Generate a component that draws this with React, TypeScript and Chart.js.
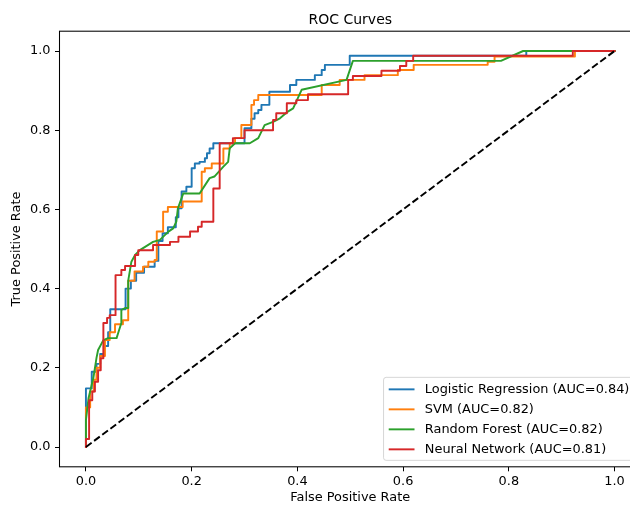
import React, { useEffect, useRef } from 'react';
import { Chart, registerables } from 'chart.js';

Chart.register(...registerables);

// ---------- data ----------
const seriesNames = [
  'Logistic Regression (AUC=0.84)',
  'SVM (AUC=0.82)',
  'Random Forest (AUC=0.82)',
  'Neural Network (AUC=0.81)',
];
const seriesColors = ['#1f77b4', '#ff7f0e', '#2ca02c', '#d62728'];

const xTickValues = [0, 0.2, 0.4, 0.6, 0.8, 1.0];
const yTickValues = [0, 0.2, 0.4, 0.6, 0.8, 1.0];

const chanceFpr = [0, 1];
const chanceTpr = [0, 1];

// step curves: each point is the end of a horizontal run at level tpr[i]
const lrFpr = [0, 0.011, 0.02, 0.027, 0.034, 0.042, 0.046, 0.075, 0.085, 0.095, 0.11, 0.13, 0.137, 0.145, 0.155, 0.17, 0.175, 0.181, 0.19, 0.2, 0.206, 0.215, 0.225, 0.229, 0.234, 0.241, 0.3, 0.313, 0.319, 0.326, 0.332, 0.347, 0.386, 0.398, 0.433, 0.446, 0.452, 0.499, 0.833, 1];
const lrTpr = [0, 0.148, 0.19, 0.21, 0.235, 0.255, 0.29, 0.348, 0.4, 0.42, 0.44, 0.455, 0.47, 0.52, 0.54, 0.555, 0.58, 0.603, 0.645, 0.657, 0.704, 0.716, 0.72, 0.729, 0.742, 0.754, 0.767, 0.805, 0.829, 0.843, 0.851, 0.864, 0.897, 0.914, 0.927, 0.939, 0.952, 0.965, 0.988, 1];

const svmFpr = [0, 0.008, 0.015, 0.02, 0.027, 0.036, 0.045, 0.055, 0.07, 0.08, 0.092, 0.108, 0.118, 0.13, 0.134, 0.146, 0.155, 0.183, 0.219, 0.225, 0.238, 0.26, 0.272, 0.282, 0.294, 0.313, 0.318, 0.326, 0.446, 0.48, 0.527, 0.59, 0.62, 0.76, 0.773, 0.925, 1];
const svmTpr = [0, 0.1, 0.14, 0.17, 0.2, 0.23, 0.27, 0.29, 0.31, 0.32, 0.42, 0.443, 0.455, 0.468, 0.472, 0.544, 0.594, 0.606, 0.62, 0.695, 0.704, 0.716, 0.754, 0.767, 0.78, 0.813, 0.864, 0.876, 0.889, 0.914, 0.927, 0.939, 0.952, 0.965, 0.973, 0.986, 1];

const nnFpr = [0, 0.006, 0.012, 0.017, 0.023, 0.028, 0.033, 0.04, 0.045, 0.056, 0.067, 0.074, 0.093, 0.099, 0.127, 0.159, 0.175, 0.197, 0.212, 0.219, 0.241, 0.253, 0.278, 0.3, 0.354, 0.36, 0.38, 0.398, 0.42, 0.496, 0.505, 0.559, 0.594, 0.606, 0.619, 0.921, 1];
const nnTpr = [0, 0.02, 0.118, 0.14, 0.165, 0.194, 0.224, 0.313, 0.326, 0.333, 0.434, 0.447, 0.457, 0.485, 0.497, 0.51, 0.518, 0.531, 0.544, 0.556, 0.569, 0.653, 0.767, 0.78, 0.8, 0.826, 0.843, 0.868, 0.876, 0.891, 0.927, 0.937, 0.95, 0.962, 0.975, 0.988, 1];

// random forest: plain polyline (ties give diagonal segments)
const rfFpr = [0, 0, 0.005, 0.014, 0.02, 0.023, 0.033, 0.042, 0.058, 0.061, 0.067, 0.067, 0.074, 0.08, 0.08, 0.086, 0.093, 0.102, 0.127, 0.14, 0.156, 0.165, 0.171, 0.174, 0.184, 0.215, 0.234, 0.243, 0.26, 0.269, 0.272, 0.282, 0.31, 0.326, 0.338, 0.354, 0.367, 0.382, 0.392, 0.408, 0.493, 0.496, 0.505, 0.785, 0.827, 1];
const rfTpr = [0, 0.068, 0.124, 0.174, 0.225, 0.245, 0.27, 0.275, 0.275, 0.288, 0.313, 0.346, 0.351, 0.351, 0.42, 0.468, 0.485, 0.497, 0.518, 0.523, 0.544, 0.552, 0.569, 0.603, 0.64, 0.64, 0.679, 0.683, 0.708, 0.72, 0.754, 0.767, 0.767, 0.78, 0.813, 0.821, 0.83, 0.847, 0.855, 0.902, 0.927, 0.939, 0.975, 0.975, 1, 1];

// ---------- helpers ----------
const FONT = "'DejaVu Sans', sans-serif";
const FS = 12.9;
const TITLE_FS = 14;
const LW = 1.93;

function linePoints(xs: number[], ys: number[]) {
  return xs.map((x, i) => ({ x, y: ys[i] }));
}

function stepPoints(xs: number[], ys: number[]) {
  const pts: { x: number; y: number }[] = [];
  xs.forEach((x, i) => {
    if (i > 0) pts.push({ x: xs[i - 1], y: ys[i] });
    pts.push({ x, y: ys[i] });
  });
  return pts;
}

const mplPlugin = {
  id: 'mplDecor',
  afterDraw(chart: any) {
    const { ctx, chartArea: a } = chart;
    ctx.save();
    // spines
    ctx.strokeStyle = '#000';
    ctx.lineWidth = 1.05;
    ctx.strokeRect(a.left, a.top, a.right - a.left, a.bottom - a.top);
    // title
    ctx.fillStyle = '#000';
    ctx.font = `${TITLE_FS}px ${FONT}`;
    ctx.textAlign = 'center';
    ctx.textBaseline = 'alphabetic';
    ctx.fillText('ROC Curves', (a.left + a.right) / 2, a.top - 7.7);
    // legend
    ctx.font = `${FS}px ${FONT}`;
    const textW = Math.max(...seriesNames.map((n) => ctx.measureText(n).width));
    const pad = 0.4 * FS;
    const handleLen = 2 * FS;
    const textPad = 0.8 * FS;
    const rowH = 20;
    const w = pad + handleLen + textPad + textW + pad;
    const h = 83;
    const right = a.right - 0.5 * FS;
    const bottom = a.bottom - 0.5 * FS;
    const left = right - w;
    const top = bottom - h;
    ctx.beginPath();
    ctx.roundRect(left, top, w, h, 2.6);
    ctx.fillStyle = 'rgba(255,255,255,0.8)';
    ctx.fill();
    ctx.strokeStyle = 'rgba(204,204,204,0.8)';
    ctx.lineWidth = 1;
    ctx.stroke();
    seriesNames.forEach((name, i) => {
      const cy = top + 12 + i * rowH;
      ctx.strokeStyle = seriesColors[i];
      ctx.lineWidth = LW;
      ctx.lineCap = 'butt';
      ctx.beginPath();
      ctx.moveTo(left + pad, cy);
      ctx.lineTo(left + pad + handleLen, cy);
      ctx.stroke();
      ctx.fillStyle = '#000';
      ctx.textAlign = 'left';
      ctx.textBaseline = 'middle';
      ctx.fillText(name, left + pad + handleLen + textPad, cy);
    });
    ctx.restore();
  },
};

export default function App() {
  const ref = useRef<HTMLCanvasElement>(null);

  useEffect(() => {
    if (!ref.current) return;
    const tickFont = { family: FONT, size: FS };
    const gridOpts = {
      display: true,
      drawOnChartArea: false,
      drawTicks: true,
      tickLength: 4.5,
      tickColor: '#000',
      tickWidth: 1.05,
    };
    const curve = (i: number, data: any[], order: number) => ({
      label: seriesNames[i],
      data,
      borderColor: seriesColors[i],
      backgroundColor: seriesColors[i],
      borderWidth: LW,
      pointRadius: 0,
      pointHoverRadius: 0,
      tension: 0,
      fill: false,
      borderJoinStyle: 'round',
      borderCapStyle: 'square',
      order,
    });
    const chart = new Chart(ref.current, {
      type: 'line',
      data: {
        datasets: [
          {
            label: 'chance',
            data: linePoints(chanceFpr, chanceTpr),
            borderColor: '#000',
            borderWidth: LW,
            borderDash: [7.1, 3.1],
            borderCapStyle: 'butt',
            pointRadius: 0,
            tension: 0,
            fill: false,
            order: 0,
          } as any,
          curve(3, stepPoints(nnFpr, nnTpr), 1),
          curve(2, linePoints(rfFpr, rfTpr), 2),
          curve(1, stepPoints(svmFpr, svmTpr), 3),
          curve(0, stepPoints(lrFpr, lrTpr), 4),
        ],
      },
      options: {
        animation: false,
        responsive: false,
        devicePixelRatio: 1,
        events: [],
        layout: { padding: { top: 31.2, right: 19, bottom: 0, left: 0 } },
        plugins: {
          legend: { display: false },
          title: { display: false },
          tooltip: { enabled: false },
        },
        scales: {
          x: {
            type: 'linear',
            min: -0.05,
            max: 1.05,
            afterBuildTicks: (s: any) => {
              s.ticks = xTickValues.map((v) => ({ value: v }));
            },
            afterFit: (s: any) => {
              s.height = 42.2;
            },
            grid: gridOpts,
            border: { display: false },
            ticks: {
              color: '#000',
              font: tickFont,
              padding: 2.5,
              maxRotation: 0,
              autoSkip: false,
              callback: (v: any) => Number(v).toFixed(1),
            },
            title: {
              display: true,
              text: 'False Positive Rate',
              color: '#000',
              font: tickFont,
              padding: { top: 0, bottom: 4 },
            },
          },
          y: {
            type: 'linear',
            min: -0.05,
            max: 1.05,
            afterBuildTicks: (s: any) => {
              s.ticks = yTickValues.map((v) => ({ value: v }));
            },
            afterFit: (s: any) => {
              s.width = 59.5;
            },
            grid: gridOpts,
            border: { display: false },
            ticks: {
              color: '#000',
              font: tickFont,
              padding: 4.5,
              autoSkip: false,
              callback: (v: any) => Number(v).toFixed(1),
            },
            title: {
              display: true,
              text: 'True Positive Rate',
              color: '#000',
              font: tickFont,
              padding: { top: 9, bottom: 0 },
            },
          },
        },
      } as any,
      plugins: [mplPlugin],
    });
    return () => chart.destroy();
  }, []);

  return (
    <div
      style={{
        position: 'fixed',
        left: 0,
        top: 0,
        width: 630,
        height: 509,
        overflow: 'hidden',
        background: '#fff',
      }}
    >
      <canvas
        ref={ref}
        width={660}
        height={509}
        style={{ display: 'block', width: 660, height: 509 }}
      />
    </div>
  );
}
